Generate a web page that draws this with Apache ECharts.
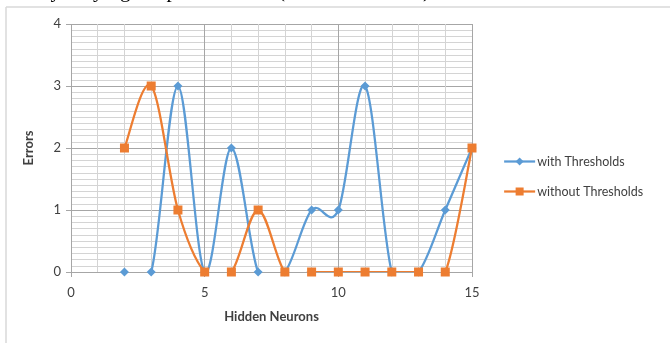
<!DOCTYPE html>
<html>
<head>
<meta charset="utf-8">
<script src="https://cdn.jsdelivr.net/npm/echarts@6/dist/echarts.min.js"></script>
<style>html,body{margin:0;padding:0;background:#fff;}#c{width:670px;height:343px;}</style>
</head>
<body>
<div id="c"></div>
<script>
var hiddenNeurons = [2, 3, 4, 5, 6, 7, 8, 9, 10, 11, 12, 13, 14, 15];
var withThresholds = [0, 0, 3, 0, 2, 0, 0, 1, 1, 3, 0, 0, 1, 2];
var withoutThresholds = [2, 3, 1, 0, 0, 1, 0, 0, 0, 0, 0, 0, 0, 2];
var seriesNames = ['with Thresholds', 'without Thresholds'];
var xTitle = 'Hidden Neurons';
var yTitle = 'Errors';
var captionText = 'by varying the performance (Hidden Neurons).';

var blue = '#5b9bd5', orange = '#ed7d31';
function pairs(xs, ys) { return xs.map(function (x, i) { return [x, ys[i]]; }); }

// Excel-like smoothed curve (Catmull-Rom -> Bezier), mapped through the chart's scales
function curveSeries(xs, ys, color, z) {
  var segs = [];
  for (var i = 0; i < xs.length - 1; i++) segs.push([xs[i], ys[i]]);
  return {
    type: 'custom', silent: true, z: z, clip: true,
    data: segs,
    renderItem: function (params, api) {
      var i = params.dataIndex;
      var n = xs.length;
      var p = function (k) { k = Math.max(0, Math.min(n - 1, k)); return api.coord([xs[k], ys[k]]); };
      var p0 = p(i - 1), p1 = p(i), p2 = p(i + 1), p3 = p(i + 2);
      var cs = params.coordSys;
      return {
        type: 'group',
        clipPath: { type: 'rect', shape: { x: cs.x, y: cs.y, width: cs.width, height: cs.height } },
        children: [{
          type: 'bezierCurve',
          shape: {
            x1: p1[0], y1: p1[1], x2: p2[0], y2: p2[1],
            cpx1: p1[0] + (p2[0] - p0[0]) / 6, cpy1: p1[1] + (p2[1] - p0[1]) / 6,
            cpx2: p2[0] - (p3[0] - p1[0]) / 6, cpy2: p2[1] - (p3[1] - p1[1]) / 6
          },
          style: { stroke: color, lineWidth: 2.25, fill: null, lineCap: 'round' }
        }]
      };
    }
  };
}

var font = 'Lato, "Open Sans", sans-serif';
var chart = echarts.init(document.getElementById('c'), null, { renderer: 'canvas' });
chart.setOption({
  animation: false,
  backgroundColor: '#fff',
  grid: { left: 71, right: 198, top: 24, bottom: 71, containLabel: false },
  xAxis: {
    type: 'value', min: 0, max: 15, interval: 5,
    name: xTitle, nameLocation: 'middle', nameGap: 38,
    nameTextStyle: { fontFamily: font, fontWeight: 'bold', fontSize: 13, color: '#404040' },
    axisLine: { show: true, lineStyle: { color: '#a6a6a6', width: 1 } },
    axisTick: { show: true, length: 5, lineStyle: { color: '#a6a6a6' } },
    axisLabel: { fontFamily: font, fontSize: 13, color: '#404040', margin: 14 },
    splitLine: { show: true, lineStyle: { color: '#a6a6a6', width: 1 } },
    minorTick: { show: false, splitNumber: 5 },
    minorSplitLine: { show: true, lineStyle: { color: '#d4d4d4', width: 1 } }
  },
  yAxis: {
    type: 'value', min: 0, max: 4, interval: 1,
    name: yTitle, nameLocation: 'middle', nameGap: 36, nameRotate: 90,
    nameTextStyle: { fontFamily: font, fontWeight: 'bold', fontSize: 13, color: '#404040' },
    axisLine: { show: false },
    axisTick: { show: true, length: 5, lineStyle: { color: '#a6a6a6' } },
    axisLabel: { fontFamily: font, fontSize: 13, color: '#404040', margin: 10 },
    splitLine: { show: true, lineStyle: { color: '#a6a6a6', width: 1 } },
    minorTick: { show: false, splitNumber: 10 },
    minorSplitLine: { show: true, lineStyle: { color: '#d4d4d4', width: 1 } }
  },
  legend: {
    orient: 'vertical', left: 503, top: 155, itemGap: 17, padding: 0,
    itemWidth: 31, itemHeight: 10,
    textStyle: { fontFamily: font, fontSize: 12.5, color: '#404040', padding: [0, 0, 0, -3] },
    data: [
      { name: seriesNames[0], lineStyle: { opacity: 1, color: blue, width: 2.25 } },
      { name: seriesNames[1], lineStyle: { opacity: 1, color: orange, width: 2.25 } }
    ]
  },
  series: [
    curveSeries(hiddenNeurons, withThresholds, blue, 2),
    curveSeries(hiddenNeurons, withoutThresholds, orange, 3),
    {
      name: seriesNames[0], type: 'line',
      data: pairs(hiddenNeurons, withThresholds),
      symbol: 'diamond', symbolSize: 9, showAllSymbol: true,
      itemStyle: { color: blue },
      lineStyle: { color: blue, width: 2.25, opacity: 0 },
      z: 4
    },
    {
      name: seriesNames[1], type: 'line',
      data: pairs(hiddenNeurons, withoutThresholds),
      symbol: 'rect', symbolSize: 9, showAllSymbol: true,
      itemStyle: { color: orange },
      lineStyle: { color: orange, width: 2.25, opacity: 0 },
      z: 5
    }
  ],
  graphic: [
    { type: 'line', shape: { x1: 6, y1: 7, x2: 670, y2: 7 }, style: { stroke: '#d9d9d9', lineWidth: 1.5 } },
    { type: 'line', shape: { x1: 6, y1: 7, x2: 6, y2: 343 }, style: { stroke: '#d9d9d9', lineWidth: 1.5 } },
    { type: 'text', left: 40, top: -19, style: { text: captionText, font: '21px "Liberation Serif", serif', fill: '#000' } }
  ]
});
</script>
</body>
</html>
